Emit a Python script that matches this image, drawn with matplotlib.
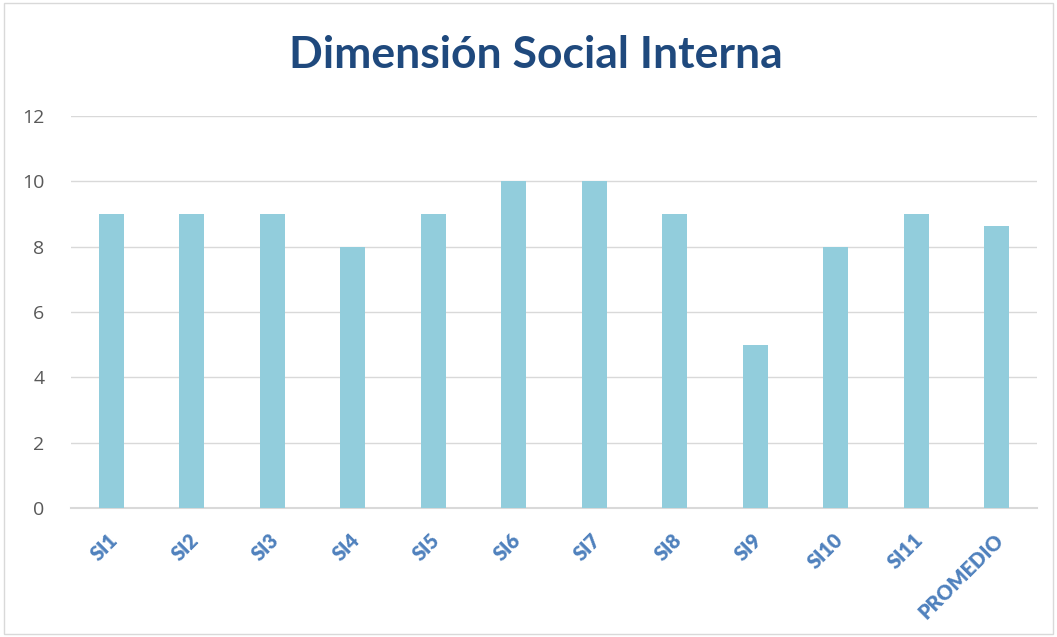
import matplotlib
matplotlib.use("Agg")
import matplotlib.pyplot as plt
from matplotlib.patches import Rectangle
from matplotlib.transforms import ScaledTranslation

categories = ["SI1", "SI2", "SI3", "SI4", "SI5", "SI6", "SI7", "SI8", "SI9", "SI10", "SI11", "PROMEDIO"]
values = [9, 9, 9, 8, 9, 10, 10, 9, 5, 8, 9, 8.64]
yticks = [0, 2, 4, 6, 8, 10, 12]

fig = plt.figure(figsize=(10.57, 6.37), dpi=100)
fig.patches.append(Rectangle((0.004, 0.005), 0.992, 0.99, transform=fig.transFigure,
                             fill=False, edgecolor="#D9D9D9", linewidth=1.0))
ax = fig.add_axes([71/1057, 1-508/637, (1037-71)/1057, (508-116)/637])

x = range(len(categories))
ax.bar(x, values, width=0.31, color="#92CDDC", zorder=3)
ax.set_xlim(-0.5, len(categories)-0.5)
ax.set_ylim(0, 12)
ax.set_yticks(yticks)
ax.set_yticklabels([str(t) for t in yticks], fontsize=14, color="#595959", family="Open Sans")
ax.tick_params(axis="y", length=0, pad=19)
ax.tick_params(axis="x", length=0, pad=16)
ax.grid(axis="y", color="#D9D9D9", linewidth=1.0, zorder=0)
for s in ["top", "right", "left"]:
    ax.spines[s].set_visible(False)
ax.spines["bottom"].set_color("#D9D9D9")
ax.spines["bottom"].set_linewidth(1.5)
ax.set_xticks(list(x))
ax.set_xticklabels(categories, rotation=45, ha="right", va="top", rotation_mode="anchor",
                   fontsize=14.5, fontweight="heavy", color="#4F81BD", family="Lato")
offset = ScaledTranslation(-0.03, 0, fig.dpi_scale_trans)
for lab in ax.get_xticklabels():
    lab.set_transform(lab.get_transform() + offset)

fig.text(536/1057, 1-55/637, "Dimensión Social Interna", ha="center", va="center",
         fontsize=32, fontweight="bold", color="#1F497D", family="Lato")

fig.savefig("out.png", dpi=100)
